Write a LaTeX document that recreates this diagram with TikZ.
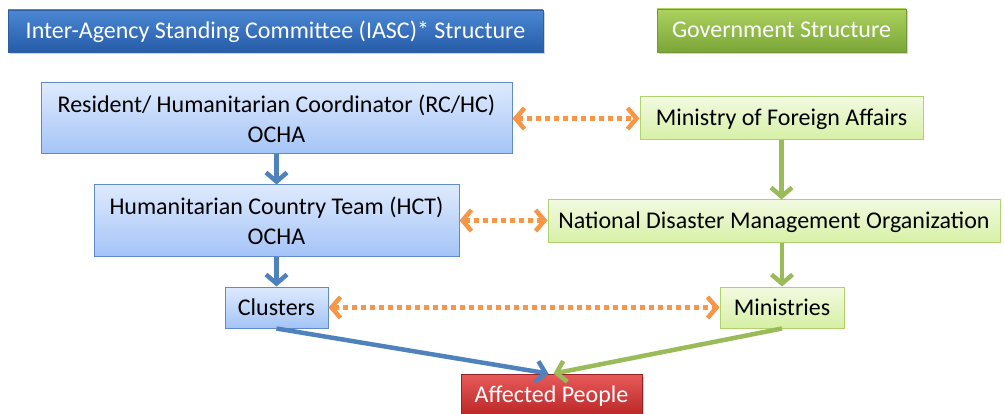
\documentclass[tikz,border=0pt]{standalone}
\usepackage{fontspec}
\setmainfont{Carlito}
\usetikzlibrary{arrows.meta,shadows,calc}
\definecolor{ablue}{RGB}{79,129,189}
\definecolor{agreen}{RGB}{155,187,89}
\definecolor{aorange}{RGB}{247,150,70}
\definecolor{bbdraw}{RGB}{95,140,200}
\definecolor{bbtop}{RGB}{222,234,253}
\definecolor{bbbot}{RGB}{164,196,247}
\definecolor{gbdraw}{RGB}{176,210,110}
\definecolor{gbtop}{RGB}{242,250,224}
\definecolor{gbbot}{RGB}{214,240,165}
\definecolor{bhdraw}{RGB}{45,95,160}
\definecolor{bhtop}{RGB}{75,135,212}
\definecolor{bhbot}{RGB}{38,92,168}
\definecolor{ghdraw}{RGB}{115,150,55}
\definecolor{ghtop}{RGB}{172,210,95}
\definecolor{ghbot}{RGB}{122,165,55}
\definecolor{rhdraw}{RGB}{150,35,35}
\definecolor{rhtop}{RGB}{232,90,90}
\definecolor{rhbot}{RGB}{185,38,38}
\tikzset{
  chev/.tip={Straight Barb[length=9pt,width=21pt]},
  boxbase/.style={inner sep=0pt, align=center, font=\fontsize{24}{30}\selectfont},
  bluebox/.style={boxbase, draw=bbdraw, line width=1pt,
    top color=bbtop, bottom color=bbbot},
  greenbox/.style={boxbase, draw=gbdraw, line width=1pt,
    top color=gbtop, bottom color=gbbot},
  onel/.style={text height=21pt, text depth=6pt},
  header/.style={boxbase, onel, text=white, line width=0.8pt,
    drop shadow={shadow xshift=1.5pt, shadow yshift=-2.5pt, opacity=0.35}},
  bluehead/.style={header, draw=bhdraw, top color=bhtop, bottom color=bhbot},
  greenhead/.style={header, draw=ghdraw, top color=ghtop, bottom color=ghbot},
  redhead/.style={header, draw=rhdraw, top color=rhtop, bottom color=rhbot},
  barrow/.style={draw=ablue, line width=4.5pt, -{chev}},
  garrow/.style={draw=agreen, line width=4.5pt, -{chev}},
  oarrow/.style={draw=aorange, line width=4.5pt, dash pattern=on 5pt off 4pt, {chev}-{chev}},
}
\begin{document}
\begin{tikzpicture}[x=1pt,y=-1pt]
\useasboundingbox (0,0) rectangle (1004,414);
% headers
\node[bluehead, minimum width=535pt, minimum height=42pt] (iasc) at (275.5,31)
  {Inter-Agency Standing Committee (IASC)* Structure};
\node[greenhead, minimum width=249pt, minimum height=43pt] (gov) at (781.5,30.5)
  {Government Structure};
% left column
\node[bluebox, minimum width=471pt, minimum height=71pt] (rchc) at (276.5,118.5)
  {Resident/ Humanitarian Coordinator (RC/HC)\\OCHA};
\node[bluebox, minimum width=365pt, minimum height=71pt] (hct) at (276.5,220.5)
  {Humanitarian Country Team (HCT)\\OCHA};
\node[bluebox, onel, minimum width=103pt, minimum height=41pt] (clus) at (276.5,307.5)
  {Clusters};
% right column
\node[greenbox, onel, minimum width=283pt, minimum height=43pt] (mofa) at (781.5,118.5)
  {Ministry of Foreign Affairs};
\node[greenbox, onel, minimum width=452pt, minimum height=43pt] (ndmo) at (774,221.5)
  {National Disaster Management Organization};
\node[greenbox, onel, minimum width=124pt, minimum height=41pt] (mins) at (782,307.5)
  {Ministries};
% bottom
\node[redhead, minimum width=181pt, minimum height=42pt] (aff) at (551.5,395)
  {Affected People};
% vertical arrows
\draw[barrow] (rchc.south) -- (hct.north);
\draw[barrow] (hct.south) -- (clus.north);
\draw[garrow] (mofa.south) -- (mofa.south |- ndmo.north);
\draw[garrow] (ndmo.south -| mins.north) -- (mins.north);
% horizontal links
\draw[oarrow] (rchc.east) -- (mofa.west);
\draw[oarrow] (hct.east) -- (hct.east -| ndmo.west);
\draw[oarrow] (clus.east) -- (mins.west);
% to affected people
\draw[barrow] (clus.south) -- ([xshift=-3pt]aff.north);
\draw[garrow] (mins.south) -- ([xshift=2pt]aff.north);
\end{tikzpicture}
\end{document}
